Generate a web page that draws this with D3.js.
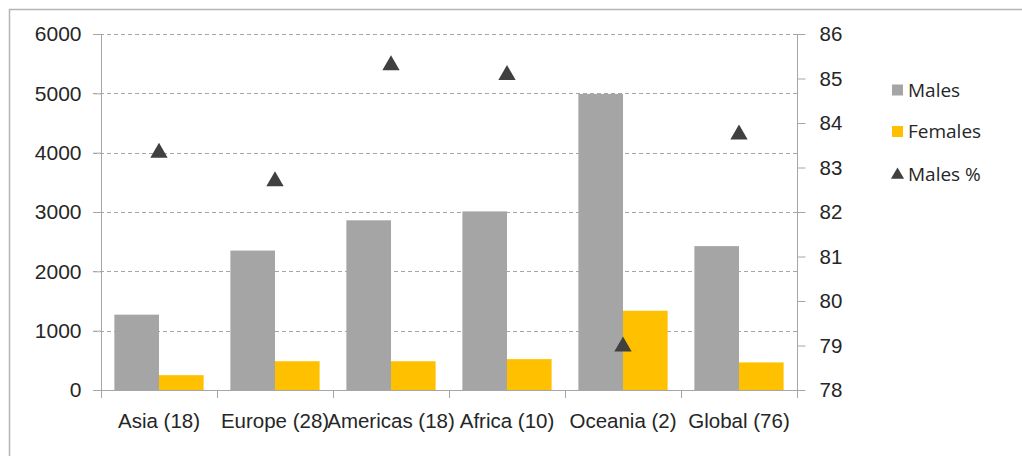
<!DOCTYPE html>
<html>
<head>
<meta charset="utf-8">
<script src="https://cdn.jsdelivr.net/npm/d3@7"></script>
<style>
  html, body { margin: 0; padding: 0; background: #fff; }
  svg { display: block; font-family: "Open Sans", "Liberation Sans", sans-serif; }
</style>
</head>
<body>
<svg id="chart" width="1022" height="456"></svg>
<script>
// Region labels (number of countries in brackets)
const categories = ["Asia (18)", "Europe (28)", "Americas (18)", "Africa (10)", "Oceania (2)", "Global (76)"];
const series = ["Males", "Females"];
const males = [1270, 2350, 2860, 3010, 4990, 2425];
const females = [250, 485, 485, 520, 1335, 465];
const malesPct = [83.33, 82.69, 85.30, 85.08, 78.98, 83.74];
const leftTicks = [0, 1000, 2000, 3000, 4000, 5000, 6000];
const rightTicks = [78, 79, 80, 81, 82, 83, 84, 85, 86];

const colors = { Males: "#a5a5a5", Females: "#ffc000", pct: "#404040" };
const textColor = "#262626";
const lineColor = "#a6a6a6";

const svg = d3.select("#chart");
const plot = { left: 101, right: 797, top: 34, bottom: 390 };

// Outer frame of the chart area
svg.append("rect")
  .attr("x", 9.5).attr("y", 9.5)
  .attr("width", 1030).attr("height", 470)
  .attr("fill", "none").attr("stroke", "#b4b4b4").attr("stroke-width", 1.5);

const x = d3.scaleBand().domain(categories).range([plot.left, plot.right]).paddingInner(0).paddingOuter(0);
const xs = d3.scaleBand().domain(series).range([0, x.bandwidth()]).paddingInner(0).paddingOuter(0.3);
const yL = d3.scaleLinear().domain([0, 6000]).range([plot.bottom, plot.top]);
const yR = d3.scaleLinear().domain([78, 86]).range([plot.bottom, plot.top]);

// Dashed horizontal gridlines
svg.append("g").selectAll("line")
  .data(leftTicks.filter(d => d > 0))
  .join("line")
  .attr("x1", plot.left - 8).attr("x2", plot.right)
  .attr("y1", d => Math.round(yL(d)) + 0.5).attr("y2", d => Math.round(yL(d)) + 0.5)
  .attr("stroke", lineColor).attr("stroke-width", 1).attr("stroke-dasharray", "4,3");

// Bars
const rows = categories.map((c, i) => ({ cat: c, Males: males[i], Females: females[i] }));
svg.append("g").selectAll("g")
  .data(rows)
  .join("g")
  .attr("transform", d => `translate(${x(d.cat)},0)`)
  .selectAll("rect")
  .data(d => series.map(s => ({ key: s, value: d[s] })))
  .join("rect")
  .attr("x", d => xs(d.key))
  .attr("width", xs.bandwidth())
  .attr("y", d => yL(d.value))
  .attr("height", d => yL(0) - yL(d.value))
  .attr("fill", d => colors[d.key]);

// Left axis
const leftAxis = svg.append("g")
  .attr("transform", `translate(${plot.left + 0.5},0)`)
  .call(d3.axisLeft(yL).tickValues(leftTicks).tickSize(8).tickPadding(12).tickFormat(d3.format("d")));
leftAxis.select(".domain").attr("stroke", lineColor).attr("d", `M0,${plot.top}V${plot.bottom}`);
leftAxis.selectAll(".tick line").attr("stroke", lineColor);
leftAxis.selectAll(".tick text").attr("fill", textColor).style("font-size", "21px");

// Right axis (Males %)
const rightAxis = svg.append("g")
  .attr("transform", `translate(${plot.right + 0.5},0)`)
  .call(d3.axisRight(yR).tickValues(rightTicks).tickSize(8).tickPadding(14).tickFormat(d3.format("d")));
rightAxis.select(".domain").attr("stroke", lineColor).attr("d", `M0,${plot.top}V${plot.bottom}`);
rightAxis.selectAll(".tick line").attr("stroke", lineColor);
rightAxis.selectAll(".tick text").attr("fill", textColor).style("font-size", "20.5px");

// Category axis
const bottomAxis = svg.append("g")
  .attr("transform", `translate(0,${plot.bottom + 0.5})`)
  .call(d3.axisBottom(x).tickSize(0).tickPadding(23));
bottomAxis.select(".domain").attr("stroke", lineColor).attr("d", `M${plot.left - 8},0H${plot.right}`);
bottomAxis.selectAll(".tick text").attr("fill", textColor).style("font-size", "20.5px");
// Category separator ticks
svg.append("g").selectAll("line")
  .data(categories.map(c => x(c)).concat([plot.right]))
  .join("line")
  .attr("x1", d => Math.round(d) + 0.5).attr("x2", d => Math.round(d) + 0.5)
  .attr("y1", plot.bottom).attr("y2", plot.bottom + 8)
  .attr("stroke", lineColor);

// Males % markers
const tri = d3.symbol().type(d3.symbolTriangle).size(130);
svg.append("g").selectAll("path")
  .data(malesPct.map((v, i) => ({ cat: categories[i], v })))
  .join("path")
  .attr("d", tri)
  .attr("transform", d => `translate(${x(d.cat) + x.bandwidth() / 2},${yR(d.v)})`)
  .attr("fill", colors.pct);

// Legend
const legendItems = [
  { label: "Males", type: "rect", color: colors.Males, y: 90 },
  { label: "Females", type: "rect", color: colors.Females, y: 131.5 },
  { label: "Males %", type: "tri", color: colors.pct, y: 174 }
];
const legend = svg.append("g");
legendItems.forEach(it => {
  if (it.type === "rect") {
    legend.append("rect").attr("x", 892).attr("y", it.y - 5.5).attr("width", 11).attr("height", 11).attr("fill", it.color);
  } else {
    legend.append("path").attr("d", d3.symbol().type(d3.symbolTriangle).size(75)).attr("transform", `translate(897.5,${it.y + 1})`).attr("fill", it.color);
  }
  legend.append("text")
    .attr("x", 908).attr("y", it.y)
    .attr("dy", "0.35em")
    .attr("fill", textColor)
    .style("font-size", "19px")
    .text(it.label);
});
</script>
</body>
</html>
